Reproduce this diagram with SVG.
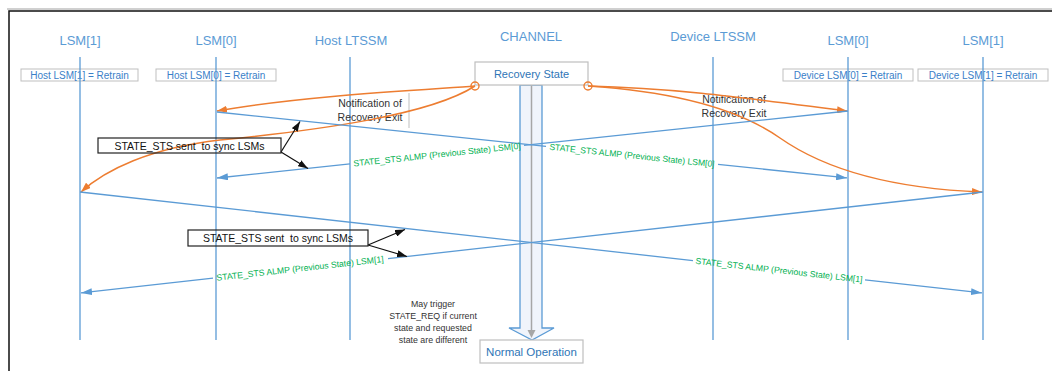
<svg xmlns="http://www.w3.org/2000/svg" width="1052" height="371" viewBox="0 0 1052 371">
<style>
.hdr{font-family:"Liberation Sans",Arial,sans-serif;font-size:13px;fill:#5b9bd5;text-anchor:middle}
.lbl{font-family:"Liberation Sans",Arial,sans-serif;font-size:10px;fill:#3a80c8;text-anchor:middle}
.lblbox{fill:#ffffff;stroke:#bfbfbf;stroke-width:1}
.life{stroke:#5b9bd5;stroke-width:1.3;fill:none}
.msg{stroke:#5b9bd5;stroke-width:1.3;fill:none}
.orng{stroke:#ed7d31;stroke-width:1.5;fill:none}
.grn{font-family:"Liberation Sans",Arial,sans-serif;font-size:8.7px;fill:#00b050;text-anchor:middle}
.note{font-family:"Liberation Sans",Arial,sans-serif;font-size:10.5px;fill:#333333;text-anchor:middle}
.small{font-family:"Liberation Sans",Arial,sans-serif;font-size:8.8px;fill:#333333;text-anchor:middle}
.call{font-family:"Liberation Sans",Arial,sans-serif;font-size:10.5px;fill:#111111;text-anchor:middle;white-space:pre}
.callbox{fill:none;stroke:#222222;stroke-width:1.2}
.callarr{stroke:#111111;stroke-width:1.2;fill:none}
.state{font-family:"Liberation Sans",Arial,sans-serif;font-size:11px;fill:#2e75b6;text-anchor:middle}
.statebox{fill:#ffffff;stroke:#bfbfbf;stroke-width:1.2}
</style>
<defs>
<marker id="ab" viewBox="0 0 11 7" refX="11" refY="3.5" markerWidth="11" markerHeight="7" markerUnits="userSpaceOnUse" orient="auto"><path d="M0,0 L11,3.5 L0,7 z" fill="#5b9bd5"/></marker>
<marker id="ao" viewBox="0 0 10 7" refX="10" refY="3.5" markerWidth="10" markerHeight="7" markerUnits="userSpaceOnUse" orient="auto"><path d="M0,0 L10,3.5 L0,7 z" fill="#ed7d31"/></marker>
<marker id="ak" viewBox="0 0 10 7" refX="10" refY="3.5" markerWidth="10" markerHeight="7" markerUnits="userSpaceOnUse" orient="auto"><path d="M0,0 L10,3.5 L0,7 z" fill="#111111"/></marker>
</defs>
<rect width="1052" height="371" fill="#ffffff"/>
<!-- frame -->
<path d="M7,9 H1052" stroke="#a0a0a0" stroke-width="1" fill="none"/>
<path d="M9,371 V11 H1052" stroke="#111111" stroke-width="1.5" fill="none"/>

<!-- headers -->
<g id="hdr-host-lsm1"><text class="hdr" x="80" y="45">LSM[1]</text></g>
<g id="hdr-host-lsm0"><text class="hdr" x="216" y="45">LSM[0]</text></g>
<g id="hdr-host-ltssm"><text class="hdr" x="351" y="45">Host LTSSM</text></g>
<g id="hdr-channel"><text class="hdr" x="531" y="41">CHANNEL</text></g>
<g id="hdr-dev-ltssm"><text class="hdr" x="713" y="41">Device LTSSM</text></g>
<g id="hdr-dev-lsm0"><text class="hdr" x="848" y="45">LSM[0]</text></g>
<g id="hdr-dev-lsm1"><text class="hdr" x="983" y="45">LSM[1]</text></g>

<!-- label boxes -->
<g id="box-host-lsm1"><rect class="lblbox" x="21" y="69" width="117" height="12"/><text class="lbl" x="79.5" y="78.6">Host LSM[1] = Retrain</text></g>
<g id="box-host-lsm0"><rect class="lblbox" x="156" y="69" width="120" height="12"/><text class="lbl" x="216" y="78.6">Host LSM[0] = Retrain</text></g>
<g id="box-dev-lsm0"><rect class="lblbox" x="783" y="69" width="130" height="12"/><text class="lbl" x="848" y="78.6">Device LSM[0] = Retrain</text></g>
<g id="box-dev-lsm1"><rect class="lblbox" x="918" y="69" width="130" height="12"/><text class="lbl" x="983" y="78.6">Device LSM[1] = Retrain</text></g>

<!-- lifelines -->
<g id="lifelines">
<line class="life" x1="80" y1="57" x2="80" y2="340"/>
<line class="life" x1="216" y1="57" x2="216" y2="340"/>
<line class="life" x1="350" y1="57" x2="350" y2="340"/>
<line class="life" x1="713" y1="57" x2="713" y2="340"/>
<line class="life" x1="848" y1="57" x2="848" y2="340"/>
<line class="life" x1="983" y1="57" x2="983" y2="340"/>
</g>

<!-- channel block arrow -->
<g id="channel-arrow">
<path d="M520,85 V328 H509 L532,340 L554,328 H542 V85 Z" fill="#f0f4fb" stroke="#5b9bd5" stroke-width="1.3"/>
<line x1="531.5" y1="85" x2="531.5" y2="331" stroke="#a6a6a6" stroke-width="1.5"/>
<path d="M527.5,330 L535.5,330 L531.5,338 Z" fill="#a6a6a6"/>
</g>

<!-- Recovery State -->
<g id="recovery-state"><rect class="statebox" x="475" y="62" width="113" height="23"/><text class="state" x="531.5" y="77.5">Recovery State</text></g>
<!-- Normal Operation -->
<g id="normal-operation"><rect class="statebox" x="480" y="340" width="103" height="23"/><text class="state" x="531.5" y="355.5" style="font-size:11.5px">Normal Operation</text></g>

<!-- notes -->
<g id="note-left">
<text class="note" x="370" y="107">Notification of</text>
<text class="note" x="370" y="121">Recovery Exit</text>
<line x1="409" y1="93" x2="409" y2="128" stroke="#bfbfbf" stroke-width="1"/>
</g>
<g id="note-right">
<text class="note" x="734" y="103">Notification of</text>
<text class="note" x="734" y="117">Recovery Exit</text>
</g>
<g id="note-trigger">
<text class="small" x="433" y="307">May trigger</text>
<text class="small" x="433" y="319">STATE_REQ if current</text>
<text class="small" x="433" y="331">state and requested</text>
<text class="small" x="433" y="343">state are different</text>
</g>

<!-- connectors -->
<g id="connectors">
<!-- orange notifications -->
<circle cx="475" cy="86" r="4" fill="none" stroke="#ed7d31" stroke-width="1.4"/>
<circle cx="588" cy="86" r="4" fill="none" stroke="#ed7d31" stroke-width="1.4"/>
<path class="orng" d="M475,86 C420,90 300,96 217,111" marker-end="url(#ao)"/>
<path class="orng" d="M475,86 C430,115 320,130 220,140 C150,148 105,170 81,192" marker-end="url(#ao)"/>
<path class="orng" d="M588,86 C680,88 760,100 847,111" marker-end="url(#ao)"/>
<path class="orng" d="M588,86 C680,92 740,110 780,138 C820,166 880,188 982,192" marker-end="url(#ao)"/>

<!-- LSM[0] STATE_STS -->
<line class="msg" x1="217" y1="112" x2="546" y2="146.4"/>
<line class="msg" x1="718" y1="164.4" x2="847" y2="177.9" marker-end="url(#ab)"/>
<text class="grn" transform="translate(632,155.4) rotate(5.97)" x="0" y="3" textLength="166" lengthAdjust="spacingAndGlyphs">STATE_STS ALMP (Previous State) LSM[0]</text>
<line class="msg" x1="848" y1="111" x2="524" y2="145.4"/>
<line class="msg" x1="350" y1="163.9" x2="217" y2="178" marker-end="url(#ab)"/>
<text class="grn" transform="translate(437,154.6) rotate(-6.06)" x="0" y="3" textLength="168" lengthAdjust="spacingAndGlyphs">STATE_STS ALMP (Previous State) LSM[0]</text>

<!-- LSM[1] STATE_STS -->
<line class="msg" x1="80" y1="192" x2="693" y2="260.6"/>
<line class="msg" x1="865" y1="279.8" x2="982" y2="292.9" marker-end="url(#ab)"/>
<text class="grn" transform="translate(779,270.2) rotate(6.38)" x="0" y="3" textLength="168" lengthAdjust="spacingAndGlyphs">STATE_STS ALMP (Previous State) LSM[1]</text>
<line class="msg" x1="983" y1="192" x2="388" y2="258.6"/>
<line class="msg" x1="213" y1="278.1" x2="81" y2="292.9" marker-end="url(#ab)"/>
<text class="grn" transform="translate(300,268.4) rotate(-6.38)" x="0" y="3" textLength="168" lengthAdjust="spacingAndGlyphs">STATE_STS ALMP (Previous State) LSM[1]</text>

<!-- callout arrows -->
<line class="callarr" x1="281" y1="152" x2="300" y2="121.5" marker-end="url(#ak)"/>
<line class="callarr" x1="281" y1="152" x2="308" y2="168.5" marker-end="url(#ak)"/>
<line class="callarr" x1="368" y1="245" x2="405" y2="229.5" marker-end="url(#ak)"/>
<line class="callarr" x1="368" y1="245" x2="407" y2="256.5" marker-end="url(#ak)"/>
</g>

<!-- callout boxes -->
<g id="callout-1"><rect class="callbox" x="98" y="138" width="183" height="15"/><text class="call" x="189.5" y="149.5" xml:space="preserve">STATE_STS sent  to sync LSMs</text></g>
<g id="callout-2"><rect class="callbox" x="188" y="230" width="180" height="16"/><text class="call" x="278" y="242" xml:space="preserve">STATE_STS sent  to sync LSMs</text></g>
</svg>
